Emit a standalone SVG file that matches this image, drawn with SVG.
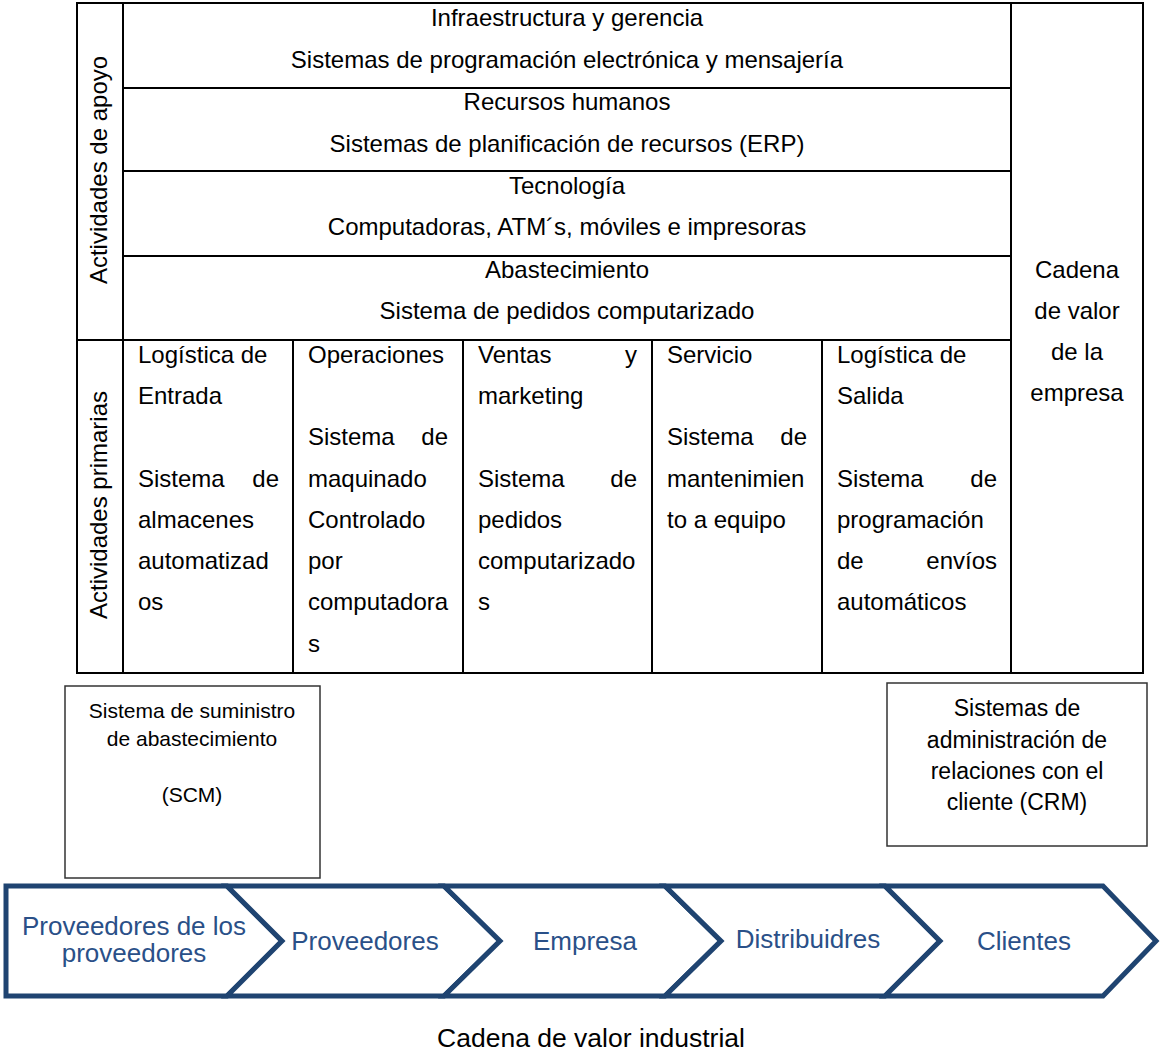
<svg xmlns="http://www.w3.org/2000/svg" width="1160" height="1053" viewBox="0 0 1160 1053">
<style>
.t{font-family:"Liberation Sans",Arial,sans-serif;font-size:24px;fill:#000}
.c{text-anchor:middle}
.e{text-anchor:end}
.ln{stroke:#000;stroke-width:2;fill:none}
.box{fill:#fff;stroke:#333;stroke-width:1.5}
.bt{font-family:"Liberation Sans",Arial,sans-serif;fill:#000;text-anchor:middle}
.chev{fill:#fff;stroke:#1F4471;stroke-width:5;stroke-linejoin:miter}
.ct{font-family:"Liberation Sans",Arial,sans-serif;font-size:26px;fill:#2A5088;text-anchor:middle}
</style>
<rect width="1160" height="1053" fill="#fff"/>
<g id="table">
<rect class="ln" x="77" y="3" width="1066" height="670"/>
<line class="ln" x1="123" y1="3" x2="123" y2="673"/>
<line class="ln" x1="1011" y1="3" x2="1011" y2="673"/>
<line class="ln" x1="123" y1="88" x2="1011" y2="88"/>
<line class="ln" x1="123" y1="171" x2="1011" y2="171"/>
<line class="ln" x1="123" y1="256" x2="1011" y2="256"/>
<line class="ln" x1="77" y1="340" x2="1011" y2="340"/>
<line class="ln" x1="293" y1="340" x2="293" y2="673"/>
<line class="ln" x1="463" y1="340" x2="463" y2="673"/>
<line class="ln" x1="652" y1="340" x2="652" y2="673"/>
<line class="ln" x1="822" y1="340" x2="822" y2="673"/>
</g>
<g id="apoyo-label"><text class="t c" transform="translate(107,170) rotate(-90)">Actividades de apoyo</text></g>
<g id="primarias-label"><text class="t c" transform="translate(107,505) rotate(-90)">Actividades primarias</text></g>
<g id="infraestructura">
<text class="t c" x="567" y="26">Infraestructura y gerencia</text>
<text class="t c" x="567" y="68">Sistemas de programación electrónica y mensajería</text>
</g>
<g id="recursos">
<text class="t c" x="567" y="110">Recursos humanos</text>
<text class="t c" x="567" y="152">Sistemas de planificación de recursos (ERP)</text>
</g>
<g id="tecnologia">
<text class="t c" x="567" y="194">Tecnología</text>
<text class="t c" x="567" y="235">Computadoras, ATM´s, móviles e impresoras</text>
</g>
<g id="abastecimiento">
<text class="t c" x="567" y="278">Abastecimiento</text>
<text class="t c" x="567" y="319">Sistema de pedidos computarizado</text>
</g>
<g id="cadena-empresa">
<text class="t c" x="1077" y="278">Cadena</text>
<text class="t c" x="1077" y="319">de valor</text>
<text class="t c" x="1077" y="360">de la</text>
<text class="t c" x="1077" y="401">empresa</text>
</g>
<g id="logistica-entrada">
<text class="t" x="138" y="363">Logística de</text>
<text class="t" x="138" y="404">Entrada</text>
<text class="t" x="138" y="487">Sistema</text><text class="t e" x="279" y="487">de</text>
<text class="t" x="138" y="528">almacenes</text>
<text class="t" x="138" y="569">automatizad</text>
<text class="t" x="138" y="610">os</text>
</g>
<g id="operaciones">
<text class="t" x="308" y="363">Operaciones</text>
<text class="t" x="308" y="445">Sistema</text><text class="t e" x="448" y="445">de</text>
<text class="t" x="308" y="487">maquinado</text>
<text class="t" x="308" y="528">Controlado</text>
<text class="t" x="308" y="569">por</text>
<text class="t" x="308" y="610">computadora</text>
<text class="t" x="308" y="652">s</text>
</g>
<g id="ventas">
<text class="t" x="478" y="363">Ventas</text><text class="t e" x="637" y="363">y</text>
<text class="t" x="478" y="404">marketing</text>
<text class="t" x="478" y="487">Sistema</text><text class="t e" x="637" y="487">de</text>
<text class="t" x="478" y="528">pedidos</text>
<text class="t" x="478" y="569">computarizado</text>
<text class="t" x="478" y="610">s</text>
</g>
<g id="servicio">
<text class="t" x="667" y="363">Servicio</text>
<text class="t" x="667" y="445">Sistema</text><text class="t e" x="807" y="445">de</text>
<text class="t" x="667" y="487">mantenimien</text>
<text class="t" x="667" y="528">to a equipo</text>
</g>
<g id="logistica-salida">
<text class="t" x="837" y="363">Logística de</text>
<text class="t" x="837" y="404">Salida</text>
<text class="t" x="837" y="487">Sistema</text><text class="t e" x="997" y="487">de</text>
<text class="t" x="837" y="528">programación</text>
<text class="t" x="837" y="569">de</text><text class="t e" x="997" y="569">envíos</text>
<text class="t" x="837" y="610">automáticos</text>
</g>
<g id="scm">
<rect class="box" x="65" y="686" width="255" height="192"/>
<text class="bt" font-size="21" x="192" y="718">Sistema de suministro</text>
<text class="bt" font-size="21" x="192" y="746">de abastecimiento</text>
<text class="bt" font-size="21" x="192" y="802">(SCM)</text>
</g>
<g id="crm">
<rect class="box" x="887" y="683" width="260" height="163"/>
<text class="bt" font-size="23" x="1017" y="716">Sistemas de</text>
<text class="bt" font-size="23" x="1017" y="748">administración de</text>
<text class="bt" font-size="23" x="1017" y="779">relaciones con el</text>
<text class="bt" font-size="23" x="1017" y="810">cliente (CRM)</text>
</g>
<g id="connectors"></g>
<g id="proveedores-proveedores">
<polygon class="chev" points="6,886 227,886 282,941 227,996 6,996"/>
<text class="ct" x="134" y="935">Proveedores de los</text>
<text class="ct" x="134" y="962">proveedores</text>
</g>
<g id="proveedores">
<polygon class="chev" points="227,886 444,886 500,941 444,996 227,996 282,941"/>
<text class="ct" x="365" y="950">Proveedores</text>
</g>
<g id="empresa">
<polygon class="chev" points="444,886 665,886 721,941 665,996 444,996 500,941"/>
<text class="ct" x="585" y="950">Empresa</text>
</g>
<g id="distribuidres">
<polygon class="chev" points="665,886 885,886 940,941 885,996 665,996 721,941"/>
<text class="ct" x="808" y="948">Distribuidres</text>
</g>
<g id="clientes">
<polygon class="chev" points="885,886 1103,886 1156,941 1103,996 885,996 940,941"/>
<text class="ct" x="1024" y="950">Clientes</text>
</g>
<g id="caption">
<text class="bt" font-size="26.5" x="591" y="1047">Cadena de valor industrial</text>
</g>
</svg>
